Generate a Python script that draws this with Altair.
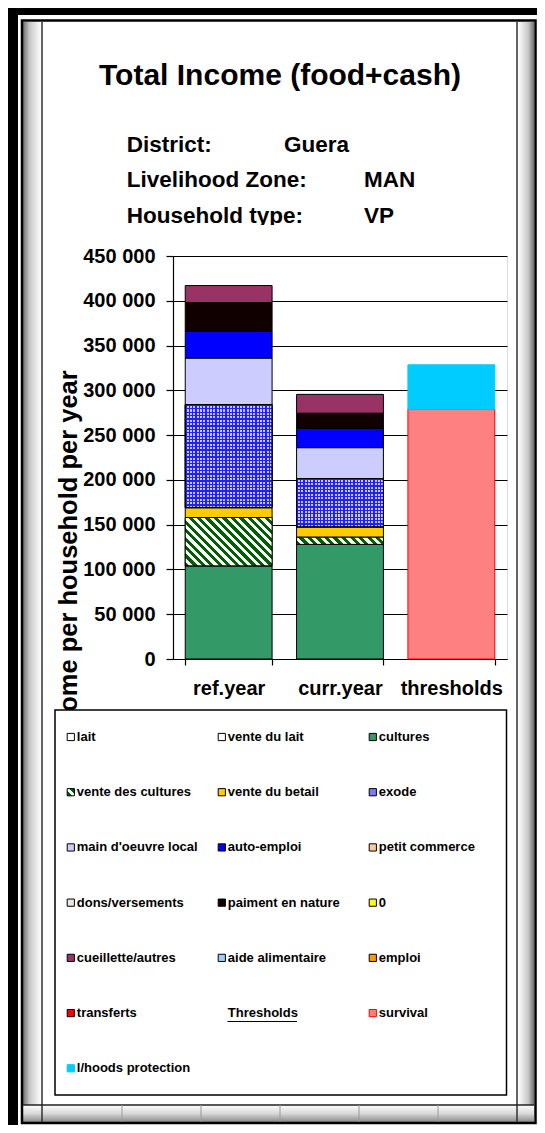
import altair as alt
import pandas as pd

# ---------------- data ----------------
periods = ["ref.year", "curr.year", "thresholds"]
series = ["lait", "vente du lait", "cultures", "vente des cultures", "vente du betail", "exode",
          "main d'oeuvre local", "auto-emploi", "petit commerce", "dons/versements",
          "paiment en nature", "0", "cueillette/autres", "aide alimentaire", "emploi", "transferts"]
ref_year = [0, 0, 104000, 54000, 11000, 115000, 52000, 30000, 0, 0, 32000, 0, 19000, 0, 0, 0]
curr_year = [0, 0, 128000, 8000, 11500, 54000, 34500, 21500, 0, 0, 17000, 0, 21000, 0, 0, 0]
threshold_series = ["survival", "l/hoods protection"]
threshold_values = [279000, 49500]
legend_entries = series + ["Thresholds"] + threshold_series
y_ticks = [0, 50000, 100000, 150000, 200000, 250000, 300000, 350000, 400000, 450000]

title_text = "Total Income (food+cash)"
info_labels = ["District:", "Livelihood Zone:", "Household type:"]
info_values = ["Guera", "MAN", "VP"]
y_title = "Income per household per year"

# ---------------- styles ----------------
fill_colors = {
    "lait": "#FFFFFF", "vente du lait": "#FFFFFF", "cultures": "#339966",
    "vente des cultures": "#3F7F3F", "vente du betail": "#FFCC00", "exode": "#7C7CF2",
    "main d'oeuvre local": "#CCCCFF", "auto-emploi": "#0000FF", "petit commerce": "#FFCC99",
    "dons/versements": "#E8E8E8", "paiment en nature": "#100000", "0": "#FFFF00",
    "cueillette/autres": "#993366", "aide alimentaire": "#99CCFF", "emploi": "#FF9900",
    "transferts": "#FF0000", "survival": "#FF8080", "l/hoods protection": "#00CCFF",
}
stroke_colors = {k: "#000000" for k in fill_colors}
stroke_colors["survival"] = "#FF0000"
stroke_colors["l/hoods protection"] = "#00CCFF"
fill_scale = alt.Scale(domain=list(fill_colors), range=list(fill_colors.values()))
stroke_scale = alt.Scale(domain=list(stroke_colors), range=list(stroke_colors.values()))

SANS = "Liberation Sans"
GREEN = "#005F00"
BLUE = "#2020FF"
LAV = "#C8C8FF"

# ---------------- layout ----------------
W, H = 334, 403
PAD = {"left": 165, "top": 248, "right": 30, "bottom": 466}
OX, OY = 8 + PAD["left"], 8 + PAD["top"]      # page position of the plot origin
P_IN, P_OUT = 0.22, 0.11
STEP = W / (len(periods) - P_IN + 2 * P_OUT)
BW = STEP * (1 - P_IN)
PX = H / 450000.0


def vx(p):
    return p - OX


def vy(p):
    return p - OY


def stripes(x1, y1, x2, y2, n, c1, c2, frac):
    stops = []
    for i in range(n):
        a, b, c = i / n, (i + frac) / n, (i + 1) / n
        stops += [{"offset": round(a, 5), "color": c1}, {"offset": round(b, 5), "color": c1},
                  {"offset": round(b, 5), "color": c2}, {"offset": round(c, 5), "color": c2}]
    return {"gradient": "linear", "x1": x1, "y1": y1, "x2": x2, "y2": y2, "stops": stops}


def hatch(h):
    w = BW
    k = (w + h) / (w * w + h * h)
    n = max(1, round((w + h) / 8.5))
    return stripes(0, 1, w * k, 1 - h * k, n, GREEN, "#FFFFFF", 0.5)


def hlines(h):
    n = max(1, round(h / 3.4))
    return stripes(0, 0, 0, 1, n, BLUE, "rgba(0,0,0,0)", 0.4)


vals = {"ref.year": dict(zip(series, ref_year)), "curr.year": dict(zip(series, curr_year))}
hatch_ref = hatch(vals["ref.year"]["vente des cultures"] * PX)
hatch_cur = hatch(vals["curr.year"]["vente des cultures"] * PX)
vlines_ex = stripes(0, 0, 1, 0, round(BW / 3.4), BLUE, LAV, 0.4)
hl_ref = hlines(vals["ref.year"]["exode"] * PX)
hl_cur = hlines(vals["curr.year"]["exode"] * PX)

# ---------------- table ----------------
rows = []
for per, arr in (("ref.year", ref_year), ("curr.year", curr_year)):
    for i, (s, v) in enumerate(zip(series, arr)):
        rows.append({"period": per, "source": s, "value": v, "order": i})
for i, (s, v) in enumerate(zip(threshold_series, threshold_values)):
    rows.append({"period": "thresholds", "source": s, "value": v, "order": i})
df = pd.DataFrame(rows)

base = (alt.Chart(df)
        .transform_filter("datum.value > 0")
        .transform_stack(stack="value", as_=["y0", "y1"], groupby=["period"],
                         sort=[alt.SortField("order", order="ascending")]))

x_enc = alt.X("period:N", title=None,
              scale=alt.Scale(domain=periods, paddingInner=P_IN, paddingOuter=P_OUT),
              axis=alt.Axis(labelFont=SANS, labelFontSize=20, labelFontWeight="bold",
                            labelColor="black", labelAngle=0, labelPadding=13,
                            tickSize=6, tickColor="black", tickWidth=1.2, tickBand="extent",
                            domainColor="black", domainWidth=1.2, grid=False))
y_enc = alt.Y("y0:Q", title=y_title,
              scale=alt.Scale(domain=[0, 450000], nice=False),
              axis=alt.Axis(values=y_ticks, labelExpr="replace(format(datum.value, ','), ',', ' ')",
                            labelFont=SANS, labelFontSize=20, labelFontWeight="bold",
                            labelColor="black", labelPadding=11, tickSize=7, tickColor="black",
                            tickWidth=1.2, domainColor="black", domainWidth=1.2,
                            grid=True, gridColor="black", gridWidth=1.2,
                            titleFont=SANS, titleFontSize=25.5, titleFontWeight="bold",
                            titleColor="black", titleAngle=270, titleBaseline="alphabetic",
                            titleX=-97, titleY=303))

bars = base.mark_bar(strokeWidth=1).encode(
    x=x_enc, y=y_enc, y2="y1:Q",
    fill=alt.Fill("source:N", scale=fill_scale, legend=None),
    stroke=alt.Stroke("source:N", scale=stroke_scale, legend=None),
)
hatch_layer = base.transform_filter("datum.source == 'vente des cultures'").mark_bar(
    stroke="black", strokeWidth=1).encode(
    x=alt.X("period:N"), y=alt.Y("y0:Q"), y2="y1:Q",
    fill=alt.condition("datum.period == 'ref.year'", alt.value(hatch_ref), alt.value(hatch_cur)),
)
exode_v = base.transform_filter("datum.source == 'exode'").mark_bar(
    stroke="black", strokeWidth=1, fill=vlines_ex).encode(
    x=alt.X("period:N"), y=alt.Y("y0:Q"), y2="y1:Q")
exode_h = base.transform_filter("datum.source == 'exode'").mark_bar(
    stroke="black", strokeWidth=1).encode(
    x=alt.X("period:N"), y=alt.Y("y0:Q"), y2="y1:Q",
    fill=alt.condition("datum.period == 'ref.year'", alt.value(hl_ref), alt.value(hl_cur)),
)
main = alt.layer(bars, hatch_layer, exode_v, exode_h)


# ---------------- decorations (window frame, legend box) ----------------
def box(x1, x2, y1, y2, **mark):
    return alt.Chart(alt.Data(values=[{}])).mark_rect(**mark).encode(
        x=alt.value(vx(x1)), x2=alt.value(vx(x2)), y=alt.value(vy(y1)), y2=alt.value(vy(y2)))


def line(x1, x2, y1, y2, color="black", width=1.5):
    return alt.Chart(alt.Data(values=[{}])).mark_rule(color=color, strokeWidth=width).encode(
        x=alt.value(vx(x1)), x2=alt.value(vx(x2)), y=alt.value(vy(y1)), y2=alt.value(vy(y2)))


grad_l = {"gradient": "linear", "x1": 0, "y1": 0, "x2": 1, "y2": 0,
          "stops": [{"offset": 0, "color": "#6E6E6E"}, {"offset": 0.35, "color": "#C6C6C6"},
                    {"offset": 1, "color": "#FFFFFF"}]}
grad_r = {"gradient": "linear", "x1": 0, "y1": 0, "x2": 1, "y2": 0,
          "stops": [{"offset": 0, "color": "#FFFFFF"}, {"offset": 0.65, "color": "#C6C6C6"},
                    {"offset": 1, "color": "#6E6E6E"}]}
grad_b = {"gradient": "linear", "x1": 0, "y1": 0, "x2": 0, "y2": 1,
          "stops": [{"offset": 0, "color": "#FFFFFF"}, {"offset": 0.5, "color": "#D8D8D8"},
                    {"offset": 1, "color": "#8A8A8A"}]}

frame = [
    box(8, 18, 8, 1125, fill="black"),
    box(8, 537, 8, 15, fill="black"),
    box(23, 41, 22, 1105, fill=grad_l),
    box(518, 534, 22, 1105, fill=grad_r),
    box(23, 534, 1105, 1122, fill=grad_b),
    box(22, 535.5, 20.5, 1123, fillOpacity=0, stroke="black", strokeWidth=2.5),
    line(42, 42, 22, 1122, "#303030", 1.5),
    line(517, 517, 22, 1122, "#303030", 1.5),
    line(23, 534, 1105, 1105, "#202020", 1.5),
]
for xd in (122, 201, 280, 359, 438):
    frame.append(line(xd, xd, 1105, 1122, "#9A9A9A", 1))


# ---------------- titles ----------------
def label(txt, x, y, size, align="left"):
    return alt.Chart(alt.Data(values=[{}])).mark_text(
        text=txt, font=SANS, fontSize=size, fontWeight="bold", color="black",
        align=align, baseline="alphabetic").encode(x=alt.value(vx(x)), y=alt.value(vy(y)))


texts = [label(title_text, 280, 85, 30, "center")]
for lab, val, yy, xv in zip(info_labels, info_values, (151.7, 186.7, 223), (284, 364, 364)):
    texts.append(label(lab, 126.7, yy, 22.5))
    texts.append(label(val, xv, yy, 22.5))
texts.append(box(100, 430, 225, 244, fill="white"))

# ---------------- legend ----------------
leg = pd.DataFrame({"source": legend_entries,
                    "col": [i % 3 for i in range(len(legend_entries))],
                    "row": [i // 3 for i in range(len(legend_entries))]})
lx = alt.X("col:Q", scale=alt.Scale(domain=[0, 2], range=[vx(70.8), vx(372.8)]), axis=None)
ly = alt.Y("row:Q", scale=alt.Scale(domain=[0, 6], range=[vy(737), vy(1068.3)]), axis=None)
sym_grad = {"gradient": "linear", "x1": 0, "y1": 1, "x2": 1, "y2": 0,
            "stops": [{"offset": 0, "color": GREEN}, {"offset": 0.38, "color": GREEN},
                      {"offset": 0.38, "color": "#FFFFFF"}, {"offset": 0.62, "color": "#FFFFFF"},
                      {"offset": 0.62, "color": GREEN}, {"offset": 1, "color": GREEN}]}
leg_sym = alt.Chart(leg).transform_filter("datum.source != 'Thresholds'").mark_square(
    size=52, strokeWidth=1, opacity=1).encode(
    x=lx, y=ly,
    fill=alt.condition("datum.source == 'vente des cultures'", alt.value(sym_grad),
                       alt.Fill("source:N", scale=fill_scale, legend=None)),
    stroke=alt.Stroke("source:N", scale=stroke_scale, legend=None))
leg_txt = alt.Chart(leg).mark_text(
    font=SANS, fontSize=13, fontWeight="bold", color="black", align="left",
    baseline="middle", dx=6).encode(x=lx, y=ly, text="source:N")
legend = alt.layer(
    box(55, 506.5, 710, 1095, fill="white", stroke="black", strokeWidth=1.5),
    leg_sym, leg_txt,
    line(227.5, 297, 1021.5, 1021.5, "black", 1.2),
)

chart = alt.layer(*frame, main, legend, *texts).resolve_scale(
    x="independent", y="independent"
).properties(
    width=W, height=H, padding=PAD, autosize=alt.AutoSizeParams(type="none"),
    background="white",
).configure_view(stroke=None).configure(font=SANS)

chart.save("out.html", embed_options={"renderer": "svg", "actions": False})
